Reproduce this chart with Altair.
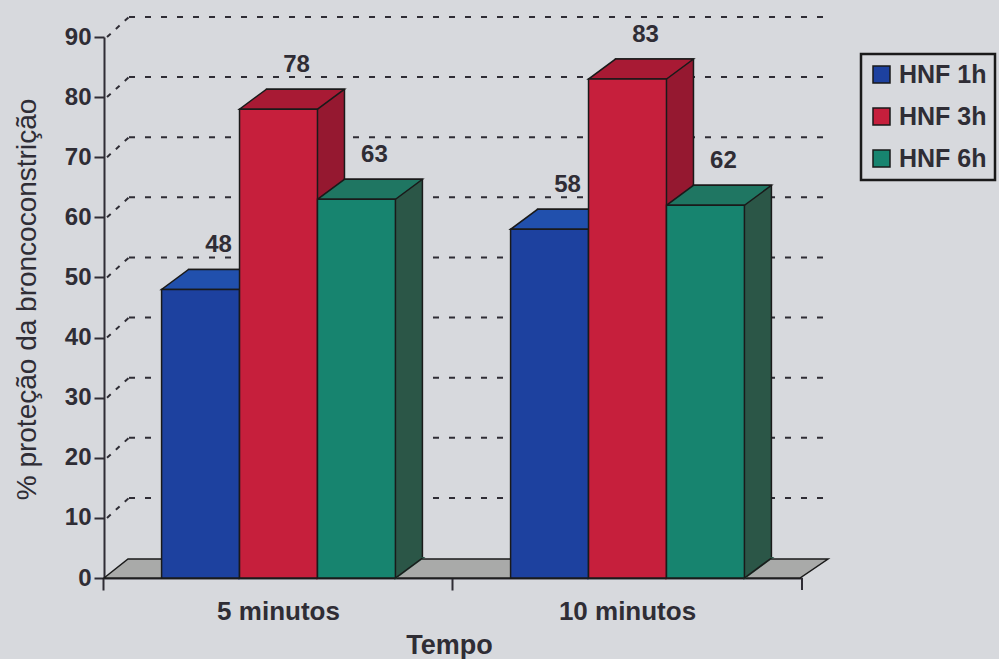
import altair as alt
import pandas as pd

# Protection against bronchoconstriction, by time after challenge and HNF dose interval
categories = ["5 minutos", "10 minutos"]
series = ["HNF 1h", "HNF 3h", "HNF 6h"]
values_5min = [48, 78, 63]
values_10min = [58, 83, 62]
grid_values = [10, 20, 30, 40, 50, 60, 70, 80, 90]
y_ticks = [0, 10, 20, 30, 40, 50, 60, 70, 80, 90]

front_colors = ["#1d419f", "#c61f3c", "#17846f"]
top_colors = ["#2150ad", "#a81a34", "#1f7662"]
side_colors = ["#183a8c", "#951830", "#2b5647"]

rows = []
for cat, vals in zip(categories, [values_5min, values_10min]):
    for s, v in zip(series, vals):
        rows.append({"tempo": cat, "serie": s, "valor": v})
df = pd.DataFrame(rows)

W, H = 698, 541
DX, DY = 27, -20       # depth of the pseudo-3D extrusion, in pixels
HALF = 39              # half of a bar's width, in pixels
BG = "#d7d9dd"
INK = "#2f2d35"
EDGE = "#1a1a1a"
FONT = "Liberation Sans"

# custom symbol paths; with size=4 one path unit equals one pixel
TOP_FACE = f"M{-HALF},0L{HALF},0L{HALF + DX},{DY}L{-HALF + DX},{DY}Z"
SIDE_FOOT = f"M{HALF},0L{HALF},{DY}L{HALF + DX},{DY}Z"
SIDE_FOOT_EDGE = f"M{HALF},0L{HALF + DX},{DY}"
FLOOR = f"M0,0L{DX - 3},{DY + 1}L{W + DX - 1},{DY + 1}L{W - 2},0Z"

y_scale = alt.Scale(domain=[0, 90], nice=False, zero=True)

x_axis = alt.Axis(
    title="Tempo",
    labelAngle=0,
    labelFontSize=26,
    labelFontWeight="bold",
    labelColor=INK,
    labelBaseline="alphabetic",
    labelPadding=29,
    bandPosition=-0.248,
    tickSize=12,
    tickWidth=2,
    tickColor=INK,
    domainColor=INK,
    domainWidth=2,
    titleFontSize=27,
    titleFontWeight="bold",
    titleColor=INK,
    titleBaseline="alphabetic",
    titleY=75,
    titleX=345,
)

y_axis = alt.Axis(
    title="% proteção da broncoconstrição",
    values=y_ticks,
    grid=False,
    labelFontSize=24,
    labelFontWeight="bold",
    labelColor=INK,
    labelPadding=3,
    tickSize=10,
    tickWidth=2,
    tickColor=INK,
    domainColor=INK,
    domainWidth=2,
    titleFontSize=28,
    titleFontWeight="normal",
    titleColor=INK,
    titleAngle=270,
    titleBaseline="alphabetic",
    titleAlign="center",
    titleX=-69,
    titleY=262,
)


def x_enc(shift=0, axis=None):
    return alt.X(
        "tempo:N",
        sort=categories,
        scale=alt.Scale(type="band", paddingInner=0.33, paddingOuter=0.165,
                        range=[shift, W + shift]),
        axis=axis,
    )


def xoff_enc():
    return alt.XOffset("serie:N", sort=series,
                       scale=alt.Scale(type="band", paddingInner=0, paddingOuter=0))


def y_enc(field="valor"):
    return alt.Y(f"{field}:Q", scale=y_scale, axis=y_axis)


def fill_enc(colors):
    return alt.Color("serie:N", sort=series,
                     scale=alt.Scale(domain=series, range=colors), legend=None)


one_row = alt.InlineData(values=[{"f": 0}])

# floor of the 3D box
floor = alt.Chart(one_row).mark_point(
    shape=FLOOR, size=4, filled=True, opacity=1,
    fill="#a9aaa9", stroke=EDGE, strokeWidth=1.5,
).encode(x=alt.value(0), y=alt.value(H))

# closing tick at the right end of the x axis
end_tick = alt.Chart(one_row).mark_rule(color=INK, strokeWidth=2).encode(
    x=alt.value(W), y=alt.value(H), y2=alt.value(H + 12)
)

grid_df = pd.DataFrame({"g": grid_values})

# short diagonal dashes joining the axis to the back wall
grid_diag = alt.Chart(grid_df).mark_rule(
    color=INK, strokeWidth=2, strokeDash=[5, 7], y2Offset=DY
).encode(
    x=alt.value(3), x2=alt.value(DX - 2),
    y=alt.Y("g:Q", scale=y_scale, axis=y_axis), y2=alt.Y2("g"),
)

# dashed gridlines on the back wall
grid_back = alt.Chart(grid_df).mark_rule(
    color=INK, strokeWidth=2, strokeDash=[6, 10], yOffset=DY
).encode(
    x=alt.value(DX - 2), x2=alt.value(W + DX),
    y=alt.Y("g:Q", scale=y_scale, axis=y_axis),
)

base = alt.Chart(df)
base_floor = base.transform_calculate(base_y="0")

# side faces: a copy of each bar pushed back by the depth offset
depth = base.mark_bar(
    stroke=EDGE, strokeWidth=1.5, yOffset=DY, y2Offset=DY
).encode(
    x=x_enc(shift=DX), xOffset=xoff_enc(), y=y_enc(), color=fill_enc(side_colors),
)

# lower corner of each side face, down to the floor
side_foot = base_floor.mark_point(
    shape=SIDE_FOOT, size=4, filled=True, opacity=1, strokeWidth=2,
).encode(
    x=x_enc(), xOffset=xoff_enc(),
    y=y_enc("base_y"),
    color=fill_enc(side_colors),
    stroke=alt.Stroke("serie:N", sort=series,
                      scale=alt.Scale(domain=series, range=side_colors), legend=None),
)
side_foot_edge = base_floor.mark_point(
    shape=SIDE_FOOT_EDGE, size=4, filled=False, opacity=1, stroke=EDGE, strokeWidth=1.5,
).encode(
    x=x_enc(), xOffset=xoff_enc(), y=y_enc("base_y"),
)

# top faces
top_face = base.mark_point(
    shape=TOP_FACE, size=4, filled=True, opacity=1, stroke=EDGE, strokeWidth=1.5,
).encode(
    x=x_enc(), xOffset=xoff_enc(), y=y_enc(), fill=fill_enc(top_colors),
)

front = base.mark_bar(stroke=EDGE, strokeWidth=1.5).encode(
    x=x_enc(axis=x_axis),
    xOffset=xoff_enc(),
    y=y_enc(),
    color=alt.Color(
        "serie:N",
        sort=series,
        scale=alt.Scale(domain=series, range=front_colors),
        legend=alt.Legend(
            title=None,
            orient="none",
            legendX=757,
            legendY=17,
            symbolType="square",
            symbolSize=289,
            symbolStrokeColor=EDGE,
            symbolStrokeWidth=1.5,
            labelFontSize=25,
            labelFontWeight="bold",
            labelColor=INK,
            labelOffset=5,
            rowPadding=16,
            padding=8,
            strokeColor=EDGE,
            fillColor=BG,
        ),
    ),
)

labels = base.mark_text(
    dx=18, dy=-44, baseline="middle", align="center",
    fontSize=24, fontWeight="bold", color=INK, font=FONT,
).encode(
    x=x_enc(), xOffset=xoff_enc(), y=y_enc(), text=alt.Text("valor:Q"),
)

chart = (
    alt.layer(floor, end_tick, grid_diag, grid_back, depth, side_foot, side_foot_edge,
              top_face, front, labels)
    .resolve_scale(color="independent", fill="independent", stroke="independent",
                   x="independent", xOffset="independent")
    .properties(
        width=W,
        height=H,
        background=BG,
        padding={"left": 104, "top": 37, "right": 999 - 104 - W, "bottom": 659 - 37 - H},
        autosize=alt.AutoSizeParams(type="none"),
    )
    .configure(font=FONT)
    .configure_legend(strokeWidth=2.5)
    .configure_view(stroke=None)
)

chart.save("out.html", embed_options={"renderer": "svg", "actions": False})
